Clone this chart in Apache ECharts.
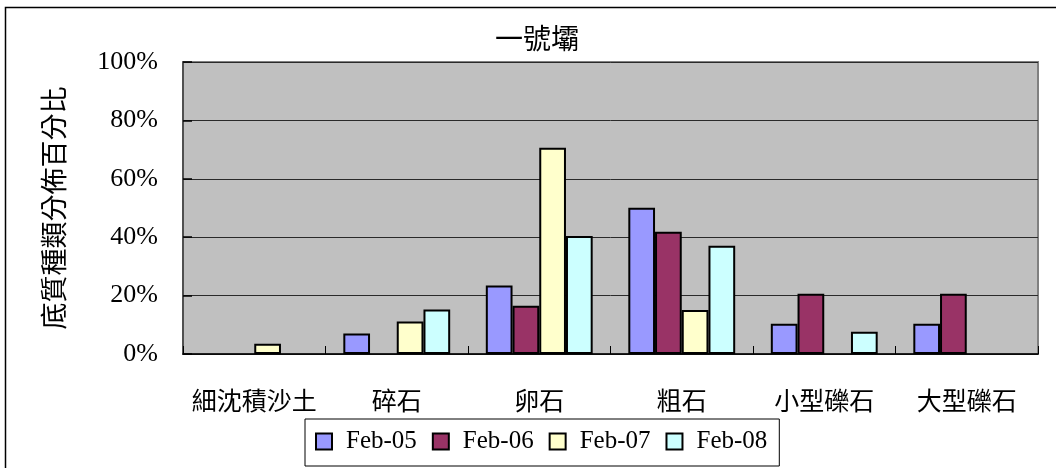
<!DOCTYPE html>
<html>
<head>
<meta charset="utf-8">
<script src="https://cdn.jsdelivr.net/npm/echarts@6/dist/echarts.min.js"></script>
<style>
  html, body { margin: 0; padding: 0; background: #ffffff; }
  #chart { width: 1056px; height: 468px; }
</style>
</head>
<body>
<div id="chart"></div>
<script>
// Substrate categories along the x axis
const categories = ['細沈積沙土', '碎石', '卵石', '粗石', '小型礫石', '大型礫石'];

// Percentage share of each substrate type per survey (null = not present)
const feb05 = [null, 7.0, 23.5, 50.1, 10.4, 10.4];
const feb06 = [null, null, 16.5, 41.9, 20.6, 20.6];
const feb07 = [3.5, 11.1, 70.6, 15.1, null, null];
const feb08 = [null, 15.2, 40.4, 37.1, 7.6, null];

const seriesNames = ['Feb-05', 'Feb-06', 'Feb-07', 'Feb-08'];
const seriesColors = ['#9999FF', '#993366', '#FFFFCC', '#CCFFFF'];
const seriesData = [feb05, feb06, feb07, feb08];

const titleText = '一號壩';
const yAxisName = '底質種類分佈百分比';

const cjkFont = '"Noto Sans CJK TC", "Noto Sans CJK SC", sans-serif';
const latinFont = '"Liberation Serif", "DejaVu Serif", serif';

const chart = echarts.init(document.getElementById('chart'));

chart.setOption({
  backgroundColor: '#ffffff',
  animation: false,
  title: {
    text: titleText,
    left: 532,
    top: 19,
    textAlign: 'center',
    textStyle: { fontFamily: cjkFont, fontSize: 28, fontWeight: 'normal', color: '#000' }
  },
  legend: {
    data: seriesNames,
    left: 305,
    top: 419,
    orient: 'horizontal',
    icon: 'rect',
    itemWidth: 16,
    itemHeight: 16,
    itemGap: 15,
    padding: [10, 12, 12, 10],
    borderColor: '#000',
    borderWidth: 1,
    backgroundColor: '#ffffff',
    textStyle: { fontFamily: latinFont, fontSize: 25, color: '#000', padding: [0, 0, 0, 9] }
  },
  grid: {
    left: 183,
    right: 18,
    top: 62,
    bottom: 114,
    show: true,
    backgroundColor: '#C0C0C0',
    borderColor: '#808080',
    borderWidth: 2,
    containLabel: false
  },
  xAxis: {
    type: 'category',
    data: categories,
    axisLine: { show: true, lineStyle: { color: '#000', width: 1.5 } },
    axisTick: { show: true, inside: true, length: 8, alignWithLabel: false, lineStyle: { color: '#000' } },
    axisLabel: { margin: 34, fontFamily: cjkFont, fontSize: 25, color: '#000', interval: 0 },
    splitLine: { show: false }
  },
  yAxis: {
    type: 'value',
    min: 0,
    max: 100,
    interval: 20,
    name: yAxisName,
    nameLocation: 'middle',
    nameRotate: 90,
    nameGap: 116,
    nameTextStyle: { fontFamily: cjkFont, fontSize: 27, color: '#000' },
    axisLine: { show: true, lineStyle: { color: '#404040', width: 1.5 } },
    axisTick: { show: true, inside: true, length: 9, lineStyle: { color: '#000', width: 1.5 } },
    axisLabel: { formatter: '{value}%', margin: 25, fontFamily: latinFont, fontSize: 26, color: '#000' },
    splitLine: { show: true, lineStyle: { color: '#2a2a2a', width: 1 } }
  },
  series: seriesNames.map((name, i) => ({
    name: name,
    type: 'bar',
    data: seriesData[i],
    barGap: '0%',
    barCategoryGap: '25%',
    itemStyle: { color: seriesColors[i], borderColor: '#000', borderWidth: 2 }
  })),
  graphic: [
    {
      type: 'polyline',
      silent: true,
      shape: { points: [[5.5, 470], [5.5, 7.5], [1060, 7.5]] },
      style: { stroke: '#000', lineWidth: 1.5, fill: null }
    }
  ]
});
</script>
</body>
</html>
